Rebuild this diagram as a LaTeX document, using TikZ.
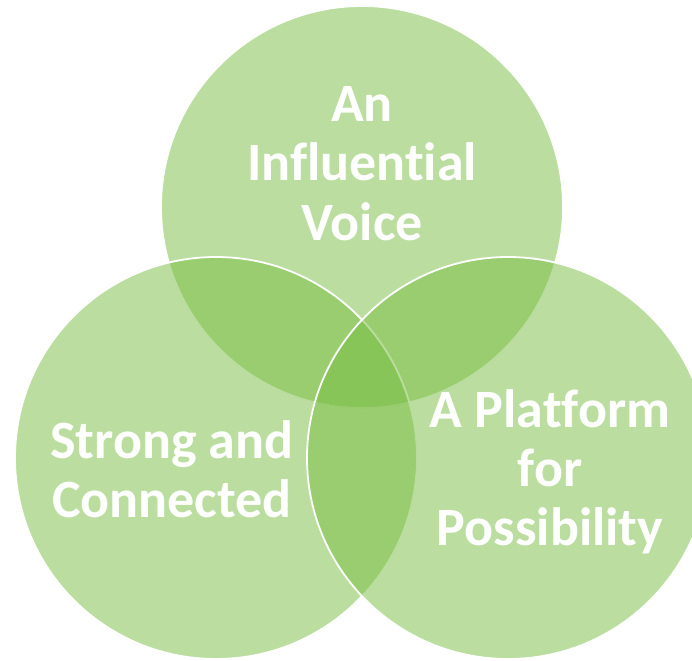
\documentclass[tikz,border=0pt]{standalone}
\usepackage{fontspec}
\setmainfont[Ligatures={NoCommon,NoRare,NoContextual}]{Carlito}
\definecolor{vgreen}{RGB}{119,189,65}
\begin{document}
\begin{tikzpicture}[x=1pt,y=-1pt,
  venn/.style={circle, minimum size=402pt, inner sep=0pt, fill=vgreen, fill opacity=0.5, draw=white, line width=1.8pt},
  lbl/.style={text=white, font=\fontsize{54}{59}\selectfont\bfseries, align=center, anchor=base, inner sep=0pt}]
\useasboundingbox (0,0) rectangle (692,660);
\clip (0,0) rectangle (692,660);
\node[venn] (top) at (362,207) {};
\node[venn] (left) at (216,458) {};
\node[venn] (right) at (508,458) {};
\node[lbl] (voice) at (362,240) {An\\Influential\\Voice};
\node[lbl] (strong) at (172,517) {Strong and\\Connected};
\node[lbl] (platform) at (550,545) {A Platform\\for\\Possibility};
\end{tikzpicture}
\end{document}
